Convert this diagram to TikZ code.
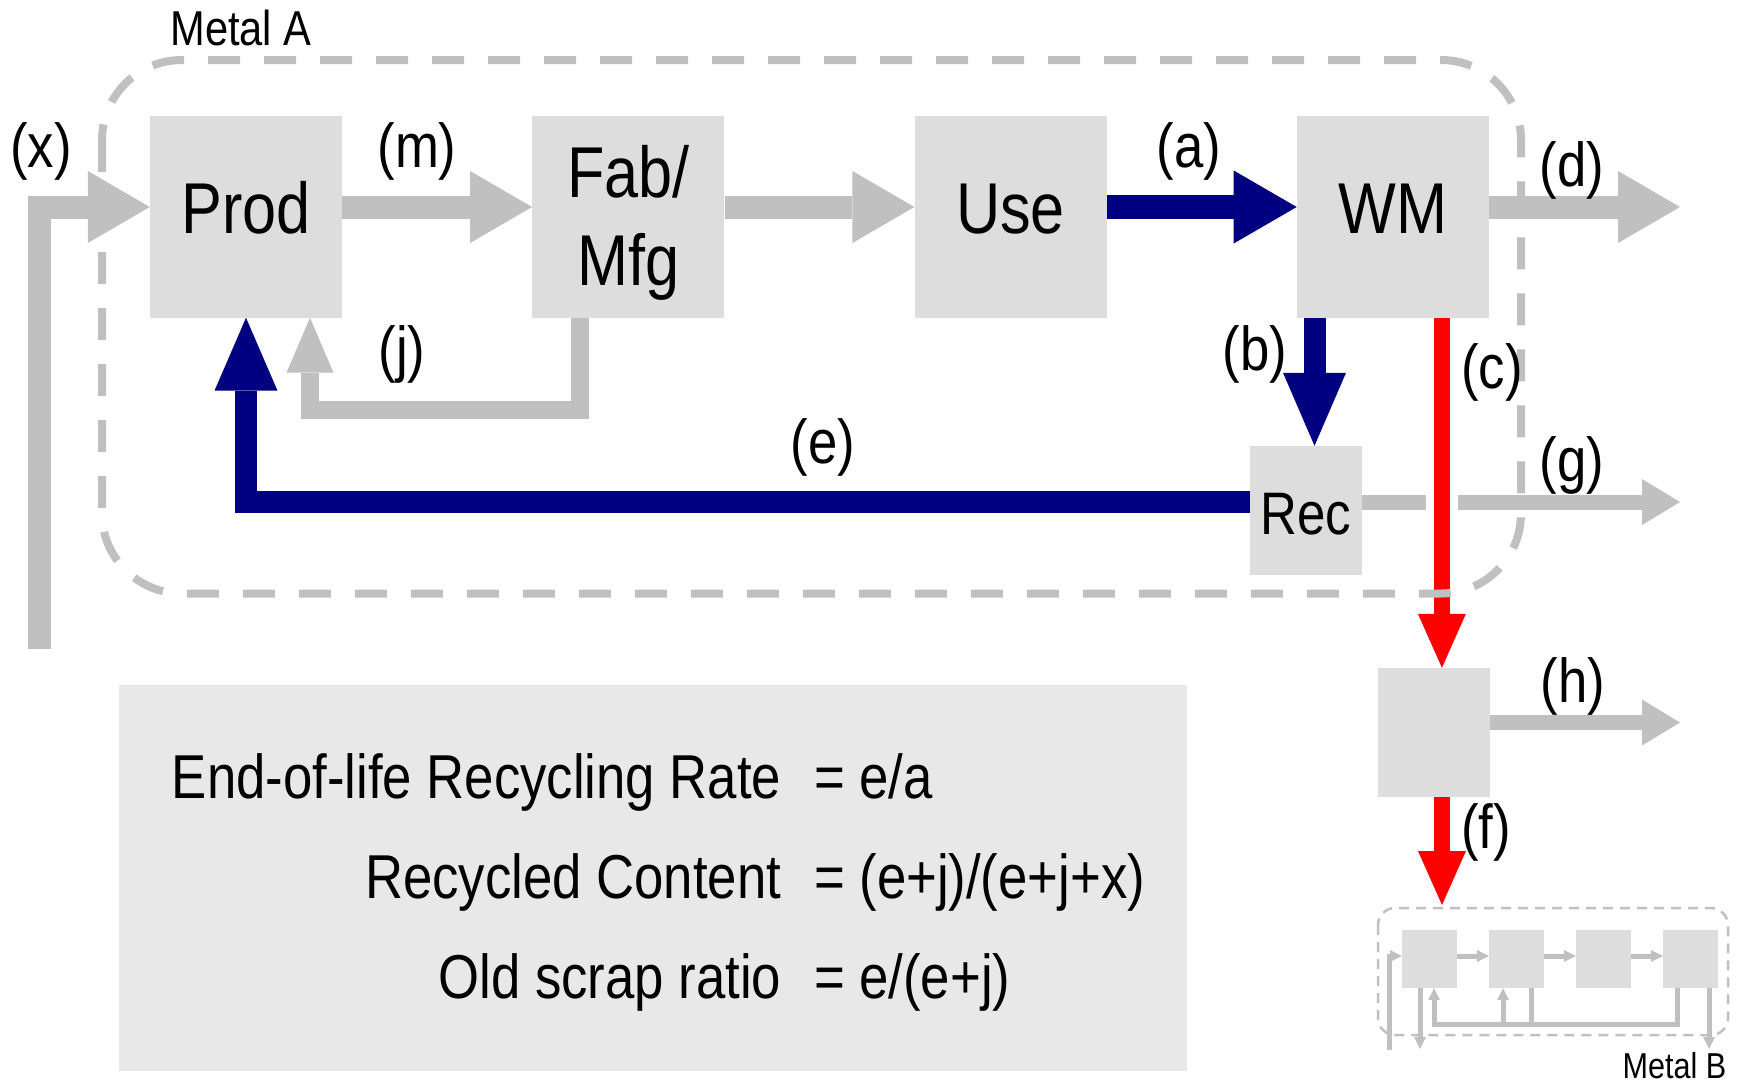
\documentclass[tikz,border=0pt]{standalone}
\usepackage{fontspec}
\setmainfont{Liberation Sans}[FakeStretch=0.85]
\usetikzlibrary{arrows.meta,positioning,calc}
\definecolor{boxgray}{HTML}{DDDDDD}
\definecolor{panelgray}{HTML}{E8E8E8}
\definecolor{flowgray}{HTML}{C0C0C0}
\definecolor{flownavy}{HTML}{000080}
\definecolor{flowred}{HTML}{FF0000}
\begin{document}
\begin{tikzpicture}[x=1pt,y=-1pt,node distance=382.3pt,
    stage/.style={fill=boxgray,minimum width=192pt,minimum height=202pt,inner sep=0pt,align=center,
      font=\fontsize{72}{88}\selectfont,text height=51.6pt,text depth=18.5pt},
    unit/.style={fill=boxgray,minimum width=112pt,minimum height=129pt,inner sep=0pt,font=\fontsize{60}{72}\selectfont,text height=49pt},
    minibox/.style={fill=boxgray,minimum width=55pt,minimum height=58pt,inner sep=0pt},
    panel/.style={fill=panelgray,minimum width=1068pt,minimum height=386pt,inner sep=0pt,font=\fontsize{62}{100}\selectfont},
    flowlabel/.style={inner sep=0pt,font=\fontsize{62}{74}\selectfont},
    metal/.style={inner sep=0pt,anchor=base},
    mainflow/.style={draw=flowgray,line width=23pt,-{Triangle[length=62pt,width=72pt,line width=0pt]}},
    navyflow/.style={draw=flownavy,line width=24pt,-{Triangle[length=63pt,width=73pt,line width=0pt]}},
    navyback/.style={draw=flownavy,line width=22pt,-{Triangle[length=73pt,width=63pt,line width=0pt]}},
    redflow/.style={draw=flowred,line width=16pt,-{Triangle[length=54pt,width=48pt,line width=0pt]}},
    sideflow/.style={draw=flowgray,line width=15pt,-{Triangle[length=38pt,width=46pt,line width=0pt]}},
    scrapflow/.style={draw=flowgray,line width=18pt,-{Triangle[length=55pt,width=47pt,line width=0pt]}},
    miniflow/.style={draw=flowgray,line width=5pt,-{Triangle[length=12pt,width=12pt,line width=0pt]}},
    minilink/.style={draw=flowgray,line width=5pt},
    gapline/.style={draw=white,line width=16pt},
    boundary/.style={draw=flowgray,line width=8pt,dash pattern=on 32pt off 24pt,rounded corners=80pt},
    miniboundary/.style={draw=flowgray,line width=2.5pt,dash pattern=on 10pt off 7pt,rounded corners=17pt}]
    \useasboundingbox (0,0) rectangle (1739,1084);

    \node[stage] (prod) at (246,216.5) {Prod};
    \node[stage,text height=,text depth=] (fab) [right of=prod] {\rule{0pt}{64pt}Fab/\\Mfg};
    \node[stage] (use) [right of=fab] {Use};
    \node[stage] (wm) [right of=use] {WM};
    \node[unit] (rec) at (1306,510.5) {Rec};
    \node[unit] (sep) at (1434,732.5) {};
    \node[panel] (rates) at (653,878) {\begin{tabular}{@{\hspace{11pt}}r@{\hspace{33pt}}l@{}}
        End-of-life Recycling Rate & = e/a\\
        Recycled Content & = (e+j)/(e+j+x)\\
        Old scrap ratio & = e/(e+j)
      \end{tabular}};

    \coordinate (xsrc) at (39,649);
    \coordinate (dout) at (1680,207);
    \coordinate (gout) at (1680,502);
    \coordinate (hout) at (1680,722.5);
    \coordinate (fend) at (1442,905);
    \coordinate (ctop) at ($(wm.south)+(49,0)$);
    \coordinate (cross) at (ctop |- gout);

    \draw[mainflow] (xsrc) |- ([yshift=9.5pt]prod.west);
    \draw[mainflow] ([yshift=9.5pt]prod.east) -- ([yshift=9.5pt]fab.west);
    \draw[mainflow] ([yshift=9.5pt]fab.east) -- ([yshift=9.5pt]use.west);
    \draw[navyflow] ([yshift=9.5pt]use.east) -- ([yshift=9.5pt]wm.west);
    \draw[mainflow] ([yshift=9.5pt]wm.east) -- (dout);
    \draw[navyback] ($(wm.south -| rec.north)+(8.5,0)$) -- ($(rec.north)+(8.5,0)$);
    \draw[navyback] ([yshift=9pt]rec.west) -| (prod.south);
    \draw[scrapflow] ([xshift=-48.5pt]fab.south) -- ++(0,92.5) -| ([xshift=64pt]prod.south);
    \draw[sideflow] ([yshift=8.5pt]rec.east) -- (gout);
    \draw[gapline] ([xshift=-16pt]cross) -- ([xshift=16pt]cross);
    \draw[redflow] (ctop) -- (ctop |- sep.north);
    \draw[sideflow] ([yshift=10pt]sep.east) -- (hout);
    \draw[redflow] (sep.south -| fend) -- (fend);

    \draw[boundary] (102,60) rectangle (1521,593.5);

    \node[flowlabel] (lx) at (41,151) {(x)};
    \node[flowlabel] (lm) at (417,151) {(m)};
    \node[flowlabel] (la) at (1189,151) {(a)};
    \node[flowlabel] (ld) at (1572,170) {(d)};
    \node[flowlabel] (lj) at (402,354) {(j)};
    \node[flowlabel] (lb) at (1255,354) {(b)};
    \node[flowlabel] (lc) at (1492,372) {(c)};
    \node[flowlabel] (le) at (823,447) {(e)};
    \node[flowlabel] (lg) at (1572,465) {(g)};
    \node[flowlabel] (lh) at (1573,686) {(h)};
    \node[flowlabel] (lf) at (1486,832) {(f)};
    \node[metal,font=\fontsize{49}{59}\selectfont] (metalA) at (241,45) {Metal A};

    \begin{scope}[node distance=87pt]
      \node[minibox] (m1) at (1429.5,959) {};
      \node[minibox] (m2) [right of=m1] {};
      \node[minibox] (m3) [right of=m2] {};
      \node[minibox] (m4) [right of=m3] {};
    \end{scope}
    \coordinate (bin) at (1389.5,1050);
    \coordinate (bout1) at (1420,1049);
    \coordinate (bout4) at (1709,1049);
    \draw[miniflow] (bin) |- ([yshift=3pt]m1.west);
    \draw[miniflow] ([yshift=3pt]m1.east) -- ([yshift=3pt]m2.west);
    \draw[miniflow] ([yshift=3pt]m2.east) -- ([yshift=3pt]m3.west);
    \draw[miniflow] ([yshift=3pt]m3.east) -- ([yshift=3pt]m4.west);
    \draw[miniflow] (m1.south -| bout1) -- (bout1);
    \draw[miniflow] (m4.south -| bout4) -- (bout4);
    \draw[miniflow] ([xshift=-13.5pt]m4.south) -- ++(0,36) -| ([xshift=4.5pt]m1.south);
    \draw[minilink] ([xshift=14.5pt]m2.south) -- ++(0,36);
    \draw[miniflow] ([xshift=-13.5pt,yshift=-36pt]m2.south) -- ([xshift=-13.5pt]m2.south);
    \draw[miniboundary] (1378,908) rectangle (1728,1035);
    \node[metal,font=\fontsize{36}{43}\selectfont] (metalB) at (1674.5,1078) {Metal B};
\end{tikzpicture}
\end{document}
